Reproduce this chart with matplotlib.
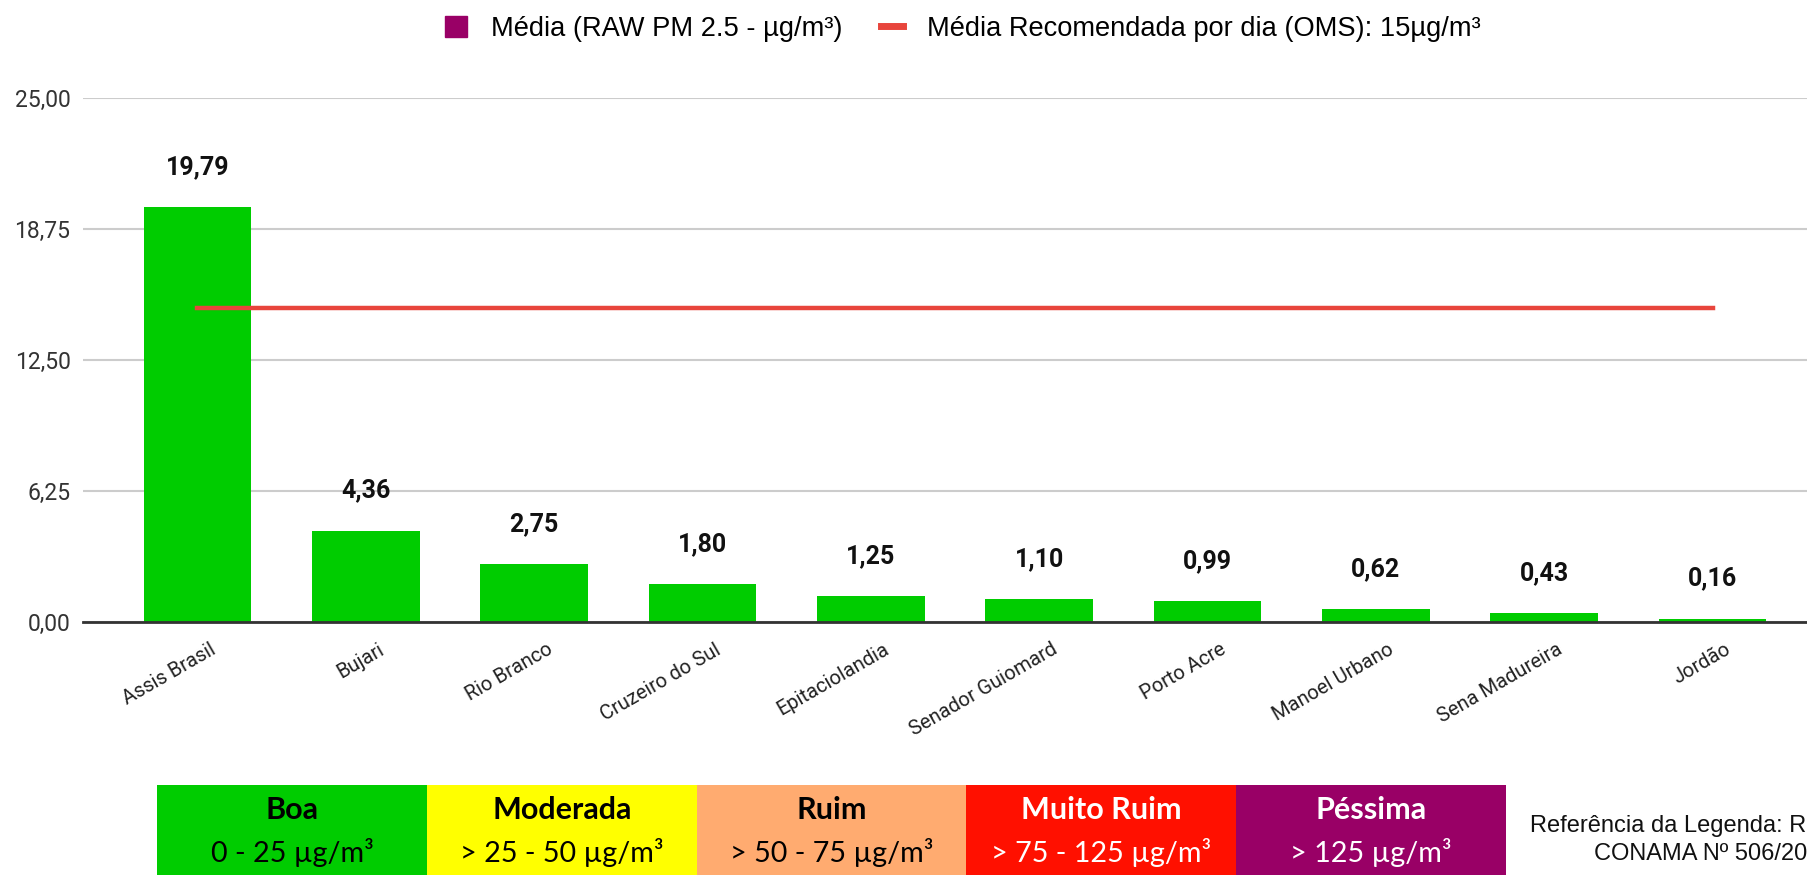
import matplotlib
matplotlib.use('Agg')
import matplotlib.pyplot as plt
from matplotlib.patches import Patch
from matplotlib.lines import Line2D
from matplotlib.transforms import ScaledTranslation, blended_transform_factory

# media de PM 2.5 por municipio
cidades = ['Assis Brasil', 'Bujari', 'Rio Branco', 'Cruzeiro do Sul', 'Epitaciolandia',
           'Senador Guiomard', 'Porto Acre', 'Manoel Urbano', 'Sena Madureira', 'Jordão']
media_pm25 = [19.79, 4.36, 2.75, 1.80, 1.25, 1.10, 0.99, 0.62, 0.43, 0.16]
oms_dia = [15, 15, 15, 15, 15, 15, 15, 15, 15, 15]
y_ticks = [0, 6.25, 12.5, 18.75, 25]

# legenda de qualidade do ar
niveis = ['Boa', 'Moderada', 'Ruim', 'Muito Ruim', 'Péssima']
faixas = ['0 - 25 µg/m³', '> 25 - 50 µg/m³', '> 50 - 75 µg/m³', '> 75 - 125 µg/m³', '> 125 µg/m³']
cores_nivel = ['#00cc00', '#ffff00', '#ffab70', '#ff1000', '#990066']
cor_texto = ['black', 'black', 'black', 'white', 'white']

W, H = 1807, 875
fig = plt.figure(figsize=(W / 100, H / 100), dpi=100)

# main chart, runs past the right edge like the original screenshot
ax = fig.add_axes([83 / W, (H - 622) / H, (1827 - 83) / W, (622 - 98) / H])
x = list(range(len(cidades)))
ax.bar(x, media_pm25, width=0.64, color='#00cc00', zorder=2)
ax.plot(x, oms_dia, color='#e8453c', lw=3.2, zorder=3)
ax.set_xlim(-0.68, 9.68)
ax.set_ylim(0, 25)
ax.set_yticks(y_ticks)
ax.set_yticklabels([f'{v:.2f}'.replace('.', ',') for v in y_ticks],
                   fontfamily='Roboto', fontsize=16.5, color='#333333')
ax.tick_params(axis='y', length=0, pad=9)
ax.set_xticks([])
ax.grid(axis='y', color='#cccccc', lw=1.5, zorder=0)
for s in ['top', 'right', 'left']:
    ax.spines[s].set_visible(False)
ax.spines['bottom'].set_color('#333333')
ax.spines['bottom'].set_linewidth(2)
ax.spines['bottom'].set_zorder(4)

# value labels
for xi, v in zip(x, media_pm25):
    ax.annotate(f'{v:.2f}'.replace('.', ','), (xi, v), xytext=(0, 28.8),
                textcoords='offset points', ha='center', va='center',
                fontfamily='Roboto', fontweight='bold', fontsize=18, color='#111111')

# rotated category labels
trans = blended_transform_factory(ax.transData, ax.transAxes)
off = ScaledTranslation(0.12, -0.18, fig.dpi_scale_trans)
for xi, nome in zip(x, cidades):
    ax.text(xi, 0, nome, transform=trans + off, rotation=30, rotation_mode='anchor',
            ha='right', va='top', fontfamily='Roboto', fontsize=14.5, color='#222222')

# top legend
handles = [Patch(facecolor='#990066', edgecolor='#990066'),
           Line2D([0], [0], color='#e8453c', lw=5)]
labels = ['Média (RAW PM 2.5 - µg/m³)', 'Média Recomendada por dia (OMS): 15µg/m³']
fig.legend(handles, labels, loc='center', bbox_to_anchor=(963 / W, 1 - 29 / H), ncol=2,
           frameon=False, prop={'family': 'Liberation Sans', 'size': 19.6},
           handlelength=0.8, handleheight=0.8, handletextpad=0.9, columnspacing=1.4)

# air quality table at the bottom
tab = fig.add_axes([157 / W, 0, (1506 - 157) / W, 90 / H])
tab.bar(range(len(niveis)), [1] * len(niveis), width=1, align='edge', color=cores_nivel)
tab.set_xlim(0, len(niveis))
tab.set_ylim(0, 1)
tab.axis('off')
for i, (n, f, c) in enumerate(zip(niveis, faixas, cor_texto)):
    tab.text(i + 0.5, 0.72, n, ha='center', va='center', color=c,
             fontfamily=['Lato', 'DejaVu Sans'], fontweight='bold', fontsize=22)
    tab.text(i + 0.5, 0.245, f, ha='center', va='center', color=c,
             fontfamily=['Lato', 'DejaVu Sans'], fontsize=20.7)

fig.text(1530 / W, 1 - 826 / H, 'Referência da Legenda: Resolução', ha='left', va='center',
         fontfamily='Liberation Sans', fontsize=17, color='#111111')
fig.text(1594 / W, 1 - 854 / H, 'CONAMA Nº 506/2024', ha='left', va='center',
         fontfamily='Liberation Sans', fontsize=17, color='#111111')

fig.savefig('out.png', dpi=100)
